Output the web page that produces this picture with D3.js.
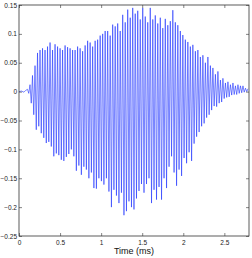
<!DOCTYPE html>
<html>
<head>
<meta charset="utf-8">
<script src="https://cdn.jsdelivr.net/npm/d3@7"></script>
<style>
  body { margin: 0; background: #fff; }
  text { font-family: "Liberation Sans", Arial, sans-serif; }
</style>
</head>
<body>
<script>
// per-cycle peaks (V), one cycle every period ms
const cycleStart = 0.1035;
const period = 0.0305;
const upperPeaks = [0.004, 0.012, 0.028, 0.045, 0.067, 0.072, 0.075, 0.072, 0.078, 0.085,
  0.072, 0.082, 0.078, 0.075, 0.072, 0.080, 0.077, 0.075, 0.072, 0.072,
  0.078, 0.075, 0.070, 0.080, 0.088, 0.085, 0.078, 0.088, 0.090, 0.097,
  0.100, 0.105, 0.105, 0.097, 0.116, 0.113, 0.118, 0.105, 0.133, 0.120,
  0.142, 0.128, 0.145, 0.135, 0.140, 0.125, 0.145, 0.130, 0.120, 0.145,
  0.125, 0.132, 0.118, 0.128, 0.110, 0.126, 0.115, 0.122, 0.141, 0.120,
  0.115, 0.105, 0.098, 0.090, 0.086, 0.078, 0.081, 0.070, 0.072, 0.060,
  0.063, 0.050, 0.060, 0.045, 0.041, 0.030, 0.035, 0.020, 0.023, 0.015,
  0.017, 0.012, 0.015, 0.010, 0.012, 0.010, 0.010, 0.006, 0.005];
const lowerPeaks = [-0.003, -0.020, -0.040, -0.066, -0.060, -0.072, -0.080, -0.089, -0.087, -0.095,
  -0.112, -0.107, -0.110, -0.118, -0.120, -0.113, -0.108, -0.100, -0.112, -0.137,
  -0.128, -0.144, -0.130, -0.135, -0.150, -0.140, -0.167, -0.168, -0.150, -0.155,
  -0.161, -0.150, -0.173, -0.200, -0.170, -0.180, -0.193, -0.175, -0.214, -0.207,
  -0.190, -0.200, -0.204, -0.185, -0.172, -0.160, -0.175, -0.160, -0.150, -0.193,
  -0.170, -0.187, -0.165, -0.187, -0.150, -0.167, -0.130, -0.112, -0.140, -0.163,
  -0.135, -0.146, -0.115, -0.124, -0.105, -0.120, -0.090, -0.078, -0.070, -0.060,
  -0.055, -0.045, -0.040, -0.032, -0.025, -0.026, -0.020, -0.018, -0.012, -0.010,
  -0.009, -0.006, -0.005, -0.005, -0.003, -0.002, -0.001, 0.000, 0.001];
// quiet lead-in before the oscillation starts
const leadTimes = [0, 0.03, 0.06, 0.08];
const leadValues = [0, 0.001, -0.001, 0.002];

const xTicks = [0, 0.5, 1, 1.5, 2, 2.5];
const yTicks = [-0.25, -0.2, -0.15, -0.1, -0.05, 0, 0.05, 0.1, 0.15];

const width = 252, height = 258;
const margin = {top: 5, right: 3, bottom: 22, left: 19};
const w = width - margin.left - margin.right;
const h = height - margin.top - margin.bottom;

const svg = d3.select("body").append("svg")
  .attr("width", width)
  .attr("height", height);

const g = svg.append("g")
  .attr("transform", "translate(" + margin.left + "," + margin.top + ")");

const x = d3.scaleLinear().domain([0, 2.8]).range([0, w]);
const y = d3.scaleLinear().domain([-0.25, 0.15]).range([h, 0]);

// build the zigzag: max then min for each cycle
let pts = leadTimes.map((t, i) => [t, leadValues[i]]);
upperPeaks.forEach((v, k) => {
  const t = cycleStart + k * period;
  pts.push([t, v]);
  pts.push([t + period / 2, lowerPeaks[k]]);
});
pts = pts.filter(p => p[0] <= 2.8);

const fmt = d => d === 0 ? "0" : d3.format("")(d).replace("-", "\u2212");

g.append("path")
  .datum(pts)
  .attr("fill", "none")
  .attr("stroke", "#1f33ff")
  .attr("stroke-width", 0.6)
  .attr("d", d3.line().x(d => x(d[0])).y(d => y(d[1])));

const styleAxis = sel => {
  sel.select(".domain").remove();
  sel.selectAll("line").attr("stroke", "#333").attr("stroke-width", 0.6);
  sel.selectAll("text").attr("fill", "#222").style("font-size", "6.5px");
};

g.append("g")
  .attr("transform", "translate(0," + h + ")")
  .call(d3.axisBottom(x).tickValues(xTicks).tickFormat(fmt).tickSizeInner(-3).tickSizeOuter(0).tickPadding(4))
  .call(styleAxis);

g.append("g")
  .call(d3.axisLeft(y).tickValues(yTicks).tickFormat(fmt).tickSizeInner(-3).tickSizeOuter(0).tickPadding(2))
  .call(styleAxis);

g.append("g")
  .call(d3.axisTop(x).tickValues(xTicks).tickFormat("").tickSizeInner(-3).tickSizeOuter(0))
  .call(styleAxis);

g.append("g")
  .attr("transform", "translate(" + w + ",0)")
  .call(d3.axisRight(y).tickValues(yTicks).tickFormat("").tickSizeInner(-3).tickSizeOuter(0))
  .call(styleAxis);

g.append("rect")
  .attr("width", w)
  .attr("height", h)
  .attr("fill", "none")
  .attr("stroke", "#333")
  .attr("stroke-width", 0.8);

svg.append("text")
  .attr("x", margin.left + w / 2)
  .attr("y", 254)
  .attr("text-anchor", "middle")
  .style("font-size", "9px")
  .attr("fill", "#111")
  .text("Time (ms)");
</script>
</body>
</html>
